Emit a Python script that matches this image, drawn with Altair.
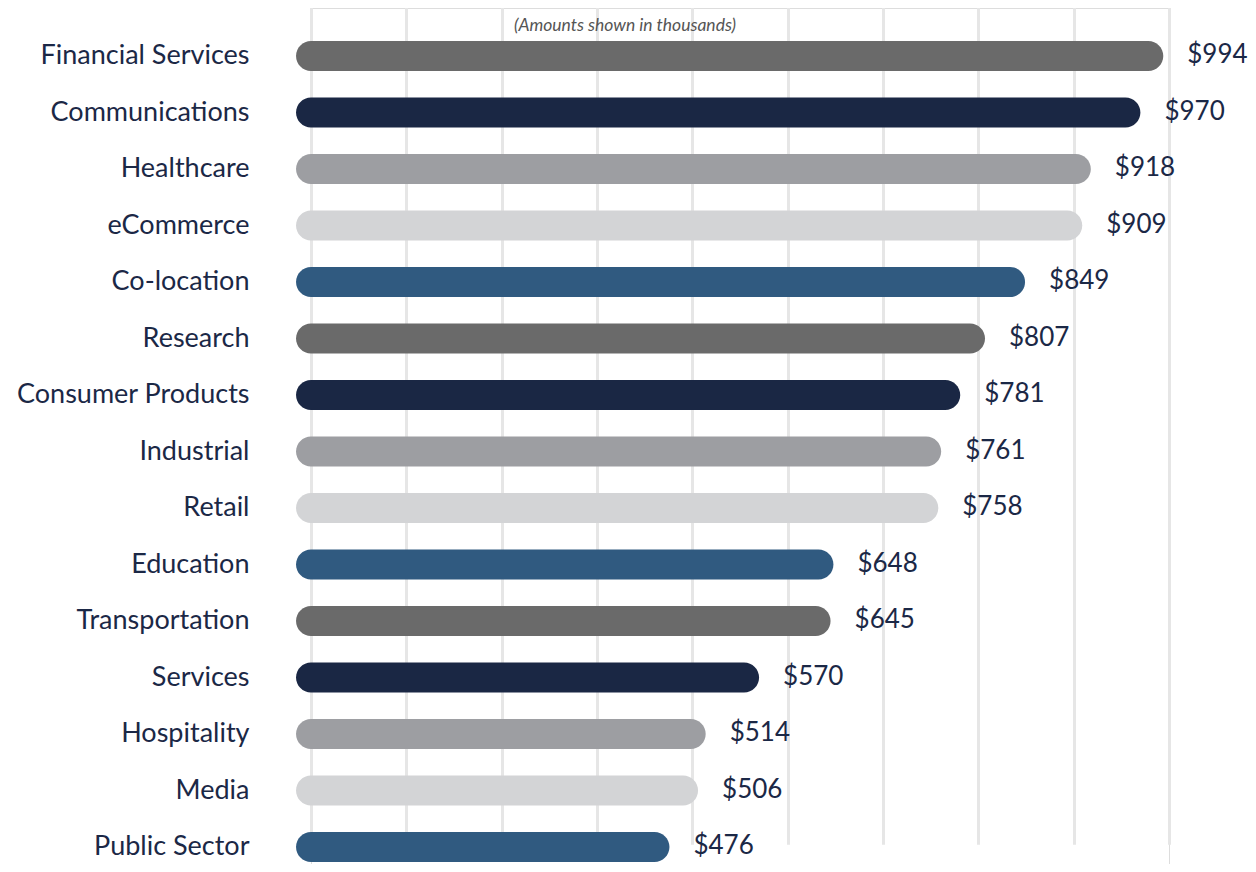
import altair as alt
import pandas as pd

categories = ["Financial Services", "Communications", "Healthcare", "eCommerce",
              "Co-location", "Research", "Consumer Products", "Industrial", "Retail",
              "Education", "Transportation", "Services", "Hospitality", "Media",
              "Public Sector"]
values = [994, 970, 918, 909, 849, 807, 781, 761, 758, 648, 645, 570, 514, 506, 476]
palette = ["#6a6a6a", "#1a2744", "#9d9ea2", "#d3d4d6", "#305a80"]
grid_values = [100, 200, 300, 400, 500, 600, 700, 800, 900, 1000]
bar_start = 84.3
note = "(Amounts shown in thousands)"

df = pd.DataFrame({
    "category": categories,
    "value": values,
    "label": ["$" + str(v) for v in values],
    "color": [palette[i % 5] for i in range(len(values))],
})

FONT = "Lato"
TEXT_COLOR = "#1b2846"

y_enc = alt.Y("category:N", sort=categories,
              scale=alt.Scale(range=[19.75, 867.25], paddingInner=0, paddingOuter=0),
              axis=alt.Axis(title=None, ticks=False, domain=False, grid=False,
                            labelPadding=62, labelFontSize=27, labelFont=FONT,
                            labelColor=TEXT_COLOR, labelLimit=400))
x_scale = alt.Scale(domain=[100, 1000], nice=False, zero=False)

base = alt.Chart(df)

bars = base.mark_bar(cornerRadius=15, size=30).encode(
    x=alt.X("value:Q", scale=x_scale,
            axis=alt.Axis(values=grid_values, title=None, labels=False, ticks=False,
                          domain=False, grid=True, gridColor="#e6e6e6", gridWidth=3)),
    x2=alt.datum(bar_start),
    y=y_enc,
    color=alt.Color("color:N", scale=None),
)

labels = base.mark_text(align="left", baseline="middle", dx=24, dy=-1, fontSize=26,
                        font=FONT, color=TEXT_COLOR).encode(
    x=alt.X("value:Q", scale=x_scale),
    y=alt.Y("category:N", sort=categories),
    text="label:N",
)

note_layer = alt.Chart(pd.DataFrame({"note": [note]})).mark_text(
    align="center", baseline="middle", fontSize=17.5, font=FONT, fontStyle="italic",
    color="#555555").encode(
    text="note:N", x=alt.value(314), y=alt.value(18))

chart = alt.layer(bars, labels, note_layer).properties(
    width=858, height=856,
    autosize=alt.AutoSizeParams(type="none"),
    padding={"left": 303, "top": 0, "right": 79, "bottom": 0},
).configure_view(stroke=None).configure(background="white")

chart.save("out.html", embed_options={"renderer": "svg", "actions": False})
